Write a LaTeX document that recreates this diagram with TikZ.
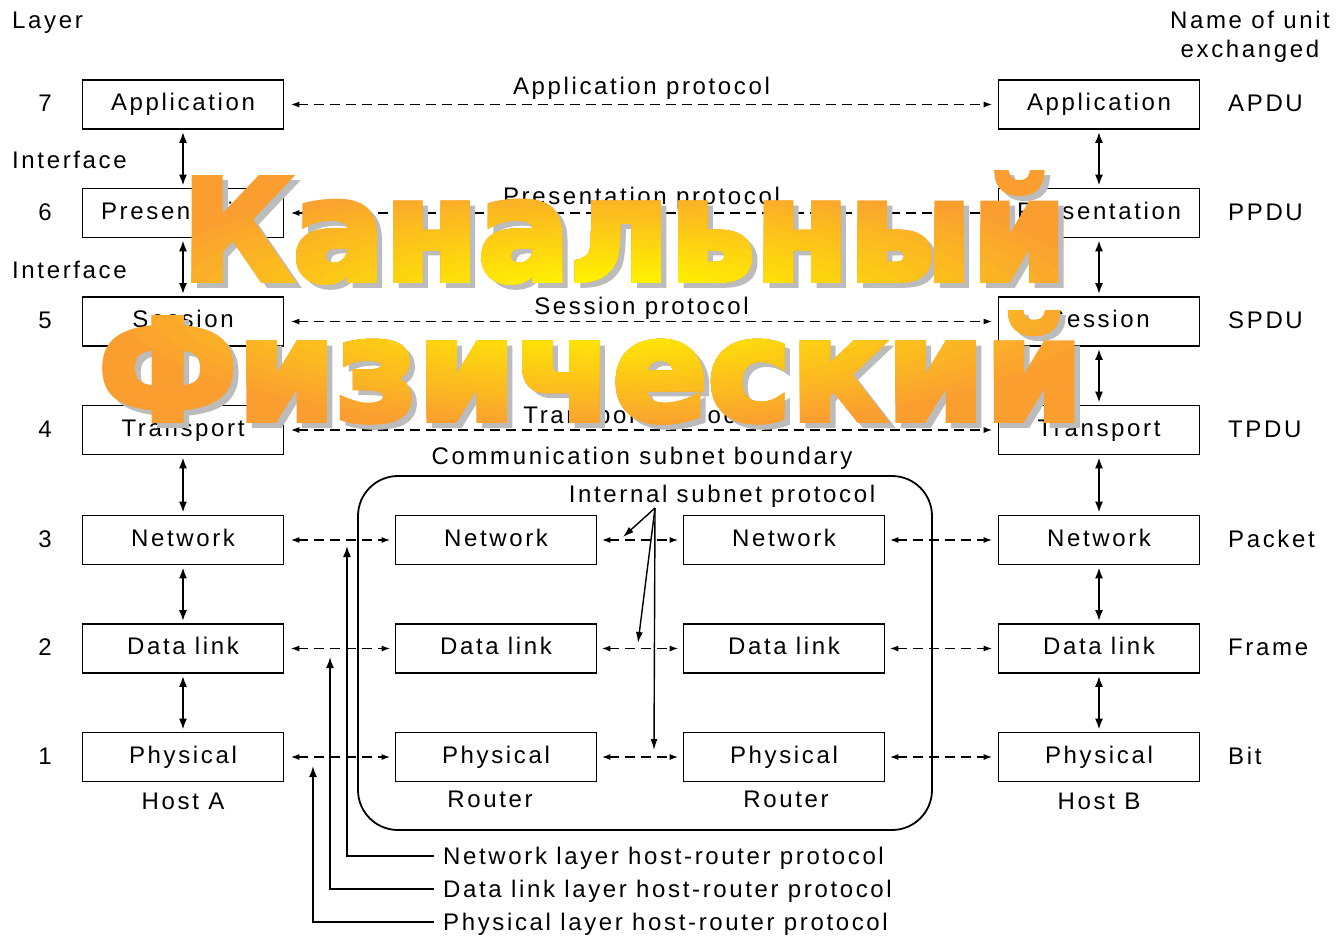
\documentclass[tikz,border=0pt]{standalone}
\usepackage{fontspec}
\usepackage{graphicx}
\setmainfont{Liberation Sans}[LetterSpace=11]
\newfontfamily\heavyfont{DejaVu Sans}[FakeBold=4]
\usetikzlibrary{arrows.meta}

\definecolor{glowyellow}{RGB}{255,240,0}
\definecolor{gloworange}{RGB}{250,158,48}
\definecolor{shadowgray}{RGB}{188,188,188}

\newcommand\lbl{\fontsize{24}{29}\selectfont}
\newcommand\wordtop{\resizebox{885pt}{\height}{\heavyfont\bfseries\fontsize{140}{140}\selectfont Канальный}}
\newcommand\wordbottom{\resizebox{985pt}{\height}{\heavyfont\bfseries\fontsize{140}{140}\selectfont Физический}}

\begin{document}
\begin{tikzpicture}[x=1pt,y=-1pt,
  every node/.style={font=\lbl, inner sep=0pt},
  layerbox/.style={draw, line width=1.6pt, minimum width=201pt, minimum height=49pt,
                   text height=17pt, text depth=5pt},
  peer/.style={line width=1.9pt, dash pattern=on 10pt off 6pt,
               {Latex[length=9pt,width=6pt]}-{Latex[length=9pt,width=6pt]}},
  iface/.style={line width=1.9pt, {Latex[length=11pt,width=8pt]}-{Latex[length=11pt,width=8pt]},
                shorten <=2pt, shorten >=2pt},
  hostrouter/.style={line width=1.7pt, -{Latex[length=11pt,width=8pt]}},
  internal/.style={line width=1.4pt, -{Latex[length=11pt,width=7pt]}},
  bigword/.style={anchor=base}
]
\useasboundingbox[fill=white] (0,0) rectangle (1339,935);

% ---- column headings ----
\node[anchor=base west] (layerhead) at (12,28) {Layer};
\node[anchor=base] (unithead) at (1250,28) {Name of unit};
\node[anchor=base] (unithead2) at (1250,57) {exchanged};

% ---- layer numbers ----
\foreach \n/\y in {7/104.5,6/213,5/321.5,4/430,3/540,2/648.5,1/757}
  \node[anchor=base] (num\n) at (45,\y+7) {\n};
\node[anchor=base west] (ifaceA) at (12,168) {Interface};
\node[anchor=base west] (ifaceB) at (12,278) {Interface};

% ---- host A / host B stacks ----
\foreach \n/\y/\t in {7/104.5/Application,6/213/Presentation,5/321.5/Session,4/430/Transport,
                      3/540/Network,2/648.5/Data link,1/757/Physical}{
  \node[layerbox] (a\n) at (183,\y) {\t};
  \node[layerbox] (b\n) at (1099,\y) {\t};
}
\foreach \u/\l in {7/6,6/5,5/4,4/3,3/2,2/1}{
  \draw[iface] (a\u.south) -- (a\l.north);
  \draw[iface] (b\u.south) -- (b\l.north);
}

% ---- units exchanged ----
\foreach \n/\t in {7/APDU,6/PPDU,5/SPDU,4/TPDU,3/Packet,2/Frame,1/Bit}
  \node[anchor=base west] (unit\n) at (1228,0 |- num\n.base) {\t};

% ---- end-to-end peer protocols ----
\foreach \n/\t/\d in {7/Application protocol/10,6/Presentation protocol/9,
                      5/Session protocol/7,4/Transport protocol/7}{
  \draw[peer] ([xshift=6pt]a\n.east) -- ([xshift=-5pt]b\n.west)
    node[pos=0.5, anchor=base, yshift=\d pt] (proto\n) {\t};
}

% ---- communication subnet ----
\node[anchor=base] (boundary) at (642,464) {Communication subnet boundary};
\node[draw, line width=1.8pt, rounded corners=40pt, minimum width=574pt, minimum height=354pt]
  (subnet) at (645,653) {};

\foreach \n/\y/\t in {3/540/Network,2/648.5/Data link,1/757/Physical}{
  \node[layerbox] (r\n) at (496,\y) {\t};
  \node[layerbox] (s\n) at (784,\y) {\t};
  \draw[peer] ([xshift=6pt]a\n.east) -- ([xshift=-4pt]r\n.west);
  \draw[peer] ([xshift=4pt]r\n.east) -- ([xshift=-4pt]s\n.west);
  \draw[peer] ([xshift=4pt]s\n.east) -- ([xshift=-5pt]b\n.west);
}
\node[anchor=base] (hostA) at (183,809) {Host A};
\node[anchor=base] (routerA) at (490,807) {Router};
\node[anchor=base] (routerB) at (786,807) {Router};
\node[anchor=base] (hostB) at (1099,809) {Host B};

% ---- internal subnet protocol ----
\node[anchor=base] (internal) at (722,502) {Internal subnet protocol};
\coordinate (fan) at (655,508);
\coordinate (fan3) at (623,537);
\coordinate (fan2) at (638,643);
\coordinate (fan1) at (654,750);
\draw[internal] (fan) -- (fan3);
\draw[internal] (fan) -- (fan2);
\draw[internal] (fan) -- (fan1);

% ---- host-router protocols ----
\foreach \k/\x/\tip/\y/\t in {n/347/546/856/Network layer host-router protocol,
                              d/330/657/889/Data link layer host-router protocol,
                              p/313/766/922/Physical layer host-router protocol}{
  \node[anchor=base west] (hr\k) at (443,\y+8) {\t};
  \coordinate (hr\k tip) at (\x,\tip);
  \coordinate (hr\k corner) at (\x,\y);
  \coordinate (hr\k end) at (434,\y);
  \draw[hostrouter] (hr\k end) -- (hr\k corner) -- (hr\k tip);
}

% ---- overlaid captions: grey drop shadow, then an orange-to-yellow glow ----
\node[bigword, text=shadowgray] (topshadow) at (630,285) {\wordtop};
\node[bigword, text=shadowgray] (bottomshadow) at (596,425) {\wordbottom};
\node[bigword, text=gloworange] (topword) at (624.5,280) {\wordtop};
\node[bigword, text=gloworange] (bottomword) at (590.5,420) {\wordbottom};
\foreach \i in {1,...,18}{
  \pgfmathsetmacro\rr{1-\i/19}
  \pgfmathsetmacro\mix{min(100,(1-\rr)*125)}
  \begin{scope}
    \clip (610,302) ellipse [x radius=\rr*520pt, y radius=\rr*132pt];
    \node[bigword, text=glowyellow!\mix!gloworange] at (624.5,280) {\wordtop};
    \node[bigword, text=glowyellow!\mix!gloworange] at (590.5,420) {\wordbottom};
  \end{scope}
}
\end{tikzpicture}
\end{document}
